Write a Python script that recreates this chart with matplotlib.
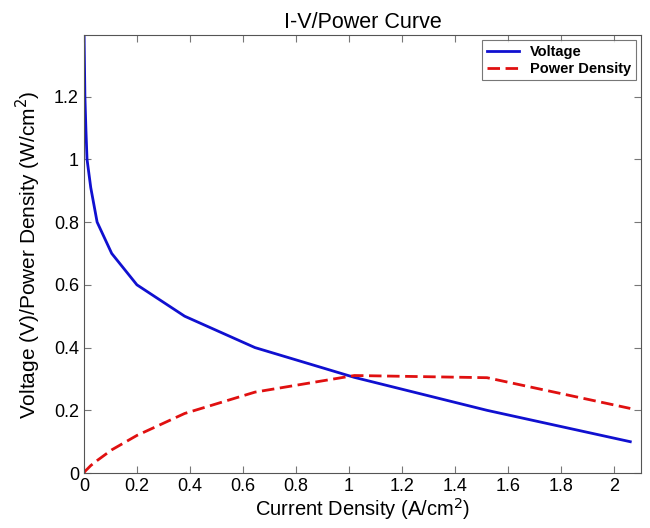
import matplotlib
matplotlib.use('Agg')
import matplotlib.pyplot as plt

plt.rcParams['font.family'] = ['Liberation Sans', 'DejaVu Sans']

# polarization data
current = [0.0, 0.004, 0.008, 0.012, 0.026, 0.05, 0.105, 0.2, 0.38, 0.645, 1.02, 1.52, 2.06]
voltage = [1.45, 1.2, 1.09, 1.0, 0.91, 0.8, 0.7, 0.6, 0.5, 0.4, 0.305, 0.2, 0.1]
power = [0.0, 0.005, 0.009, 0.012, 0.024, 0.04, 0.074, 0.12, 0.19, 0.258, 0.311, 0.304, 0.206]

fig = plt.figure(figsize=(6.5, 5.28), dpi=100)
ax = fig.add_axes([0.129, 0.104, 0.857, 0.829])

ax.plot(current, voltage, color='#1010d0', lw=2, label='Voltage')
ax.plot(current, power, color='#e01010', lw=2, ls=(0, (4.5, 2)), label='Power Density')

ax.set_xlim(0, 2.1)
ax.set_ylim(0, 1.395)
ax.set_xticks([0, 0.2, 0.4, 0.6, 0.8, 1, 1.2, 1.4, 1.6, 1.8, 2])
ax.set_xticklabels(['0', '0.2', '0.4', '0.6', '0.8', '1', '1.2', '1.4', '1.6', '1.8', '2'])
ax.set_yticks([0, 0.2, 0.4, 0.6, 0.8, 1, 1.2])
ax.set_yticklabels(['0', '0.2', '0.4', '0.6', '0.8', '1', '1.2'])
ax.tick_params(direction='in', top=True, right=True, labelsize=13,
               color='#777777', length=5, width=0.8)
for s in ax.spines.values():
    s.set_color('#555555')

ax.set_title('I-V/Power Curve', fontsize=15.5, pad=5)
ax.set_xlabel('Current Density (A/cm$^2$)', fontsize=14.5, labelpad=1)
ax.set_ylabel('Voltage (V)/Power Density (W/cm$^2$)', fontsize=15, labelpad=8)

leg = ax.legend(loc='upper right', prop={'weight': 'bold', 'size': 10.5},
                fancybox=False, edgecolor='#555555', borderaxespad=0.35,
                handlelength=2.2, labelspacing=0.2, borderpad=0.3)
leg.get_frame().set_linewidth(0.8)

fig.savefig('out.png', dpi=100)
